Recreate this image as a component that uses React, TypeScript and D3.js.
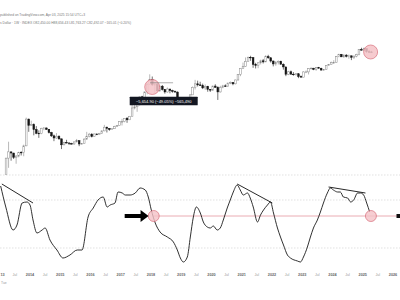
import React from 'react';
import * as d3 from 'd3';

// ---------- data ----------
const firstMonth = { year: 2013, month: 2 }; // March 2013 (0-indexed month)
const firstOpen = 33;

const highs = [
  95, 266, 140, 130, 113, 140, 145, 220, 1240, 1165,
  1020, 860, 720, 550, 650, 680, 660, 600, 500, 420, 460, 400,
  320, 265, 300, 260, 248, 268, 317, 285, 245, 330, 500, 466,
  460, 445, 440, 466, 550, 780, 700, 630, 620, 735, 760, 980,
  1150, 1200, 1290, 1380, 2800, 3000, 2950, 4750, 5000, 6450, 11500, 19800,
  17200, 11800, 11700, 9800, 10000, 7750, 8500, 7750, 7400, 7000, 6600, 4300,
  4100, 4200, 4100, 5600, 9100, 13900, 13200, 12300, 10900, 10400, 9500, 7750,
  9600, 10500, 9200, 9500, 10100, 10400, 11450, 12500, 12100, 14100, 19800, 29300,
  42000, 58300, 61700, 64800, 59500, 41300, 42400, 50500, 52900, 67000, 69000, 59000,
  47900, 45800, 48200, 47400, 40000, 31900, 24700, 25200, 22800, 21100, 21500, 18400,
  23900, 25300, 29200, 31000, 29900, 31400, 31800, 30200, 27500, 35200, 38400, 44700,
  48900, 64000, 73700, 72800, 71900, 71900, 70000, 65600, 66500, 73600, 99600, 108300,
  109600, 102800, 95000, 88600,
];
const lows = [
  33, 50, 79, 88, 65, 98, 110, 105, 200, 500,
  740, 400, 430, 340, 430, 555, 565, 450, 360, 275, 320, 300,
  166, 210, 240, 215, 226, 220, 255, 200, 225, 235, 300, 350,
  350, 365, 404, 412, 435, 520, 480, 535, 590, 602, 680, 740,
  750, 920, 890, 1060, 1350, 2100, 1800, 2670, 2970, 4100, 5500, 10800,
  9400, 6000, 6600, 6450, 7000, 5750, 6100, 5880, 6100, 6200, 3500, 3150,
  3350, 3400, 3700, 4060, 5300, 7500, 9100, 9400, 7700, 7300, 6500, 6400,
  6850, 8500, 3850, 6150, 8100, 8900, 8950, 10550, 9850, 10400, 13200, 17600,
  28800, 32300, 44900, 47000, 30000, 28800, 29300, 37300, 39600, 43300, 53300, 42000,
  32900, 34300, 37200, 37600, 26700, 17600, 18800, 19600, 18100, 18200, 15500, 16300,
  16500, 21400, 19600, 26900, 25800, 24800, 28900, 25200, 24900, 26600, 34100, 37600,
  38500, 41900, 59100, 59600, 56600, 58400, 53500, 49100, 52600, 58900, 66800, 90500,
  89200, 78200, 76600, 81700,
];
const closes = [
  93, 139, 129, 97, 106, 135, 133, 204, 1130, 755,
  800, 580, 457, 448, 628, 640, 586, 478, 387, 338, 378, 320,
  218, 254, 244, 236, 230, 263, 285, 230, 236, 314, 378, 430,
  369, 437, 416, 448, 531, 673, 624, 575, 609, 698, 742, 963,
  965, 1190, 1080, 1350, 2300, 2480, 2870, 4700, 4340, 6450, 10200, 14000,
  10200, 10300, 6900, 9250, 7500, 6400, 7730, 7030, 6630, 6370, 4030, 3740,
  3460, 3850, 4100, 5320, 8570, 10800, 10100, 9600, 8300, 9200, 7560, 7200,
  9350, 8540, 6420, 8630, 9450, 9140, 11350, 11650, 10780, 13800, 19700, 29000,
  33100, 45100, 58800, 57700, 37300, 35000, 41500, 47100, 43800, 61300, 57000, 46300,
  38500, 43200, 45500, 37700, 31800, 19900, 23300, 20000, 19400, 20500, 17200, 16500,
  23100, 23150, 28500, 29300, 27200, 30500, 29200, 26000, 27000, 34500, 37700, 42300,
  42600, 61100, 71300, 60600, 67500, 62700, 64600, 58900, 63300, 70200, 96400, 93400,
  102400, 84400, 82550, 82490,
];

// oscillator (decimal year, value 0..100)
const oscYears = [
  2013.03, 2013.2, 2013.44, 2013.57, 2013.74, 2013.9, 2014.0, 2014.1, 2014.23, 2014.4, 2014.5, 2014.66,
  2014.89, 2015.09, 2015.32, 2015.56, 2015.72, 2015.92, 2016.09, 2016.25, 2016.42, 2016.55, 2016.65,
  2016.81, 2016.91, 2017.05, 2017.15, 2017.31, 2017.48, 2017.64, 2017.81, 2017.91, 2018.01, 2018.14,
  2018.3, 2018.54, 2018.74, 2018.87, 2018.97, 2019.07, 2019.2, 2019.3, 2019.4, 2019.5, 2019.63, 2019.73,
  2019.86, 2019.96, 2020.06, 2020.19, 2020.29, 2020.39, 2020.52, 2020.62, 2020.72, 2020.85, 2020.95,
  2021.05, 2021.19, 2021.28, 2021.38, 2021.52, 2021.62, 2021.72, 2021.85, 2021.95, 2022.05, 2022.18,
  2022.28, 2022.38, 2022.51, 2022.61, 2022.84, 2022.94, 2023.04, 2023.17, 2023.27, 2023.37, 2023.5,
  2023.6, 2023.7, 2023.83, 2023.93, 2024.03, 2024.17, 2024.26, 2024.36, 2024.5, 2024.6, 2024.7, 2024.83,
  2024.93, 2025.03, 2025.13, 2025.23,
];
const oscValues = [
  84, 63, 40, 45, 67, 68, 65, 50, 37, 40, 42, 30,
  20, 12, 15, 20, 20, 53, 62, 70, 73, 63, 65,
  67, 78, 77, 75, 75, 77, 82, 80, 73, 60, 47,
  38, 33, 28, 20, 12, 8, 13, 33, 53, 63, 57, 48,
  43, 42, 44, 40, 42, 50, 62, 70, 78, 85, 80,
  75, 77, 72, 63, 48, 55, 60, 65, 68, 57, 42,
  33, 25, 15, 12, 9, 8, 13, 23, 33, 42, 50,
  58, 67, 77, 82, 80, 78, 78, 73, 72, 68, 70, 77,
  77, 75, 67, 58,
];
const oscLevels = [95, 70, 22];
const signalLevel = 54;

// trend lines on oscillator: [year1, value1, year2, value2]
const oscTrendLines = [
  [2013.07, 86, 2014.1, 67],
  [2020.85, 86, 2022.01, 67],
  [2023.87, 83, 2025.09, 77],
];
const oscMarkers = [2018.09, 2025.27];
const arrowFromTo = [2017.13, 2017.92];

// price annotations
const priceCircles = [
  { year: 2018.04, price: 8800, r: 7.5 },
  { year: 2025.26, price: 82600, r: 7 },
];
const rangeStart = { year: 2017.97, price: 11528.6 };
const rangeEnd = { year: 2018.87, price: 5873.7 };
const rangeLineEndYear = 2018.73;
const rangeLabel = '\u22125,654.90 (\u221249.05%) \u2212565,490';

const yearTicks = [2013, 2014, 2015, 2016, 2017, 2018, 2019, 2020, 2021, 2022, 2023, 2024, 2025, 2026];
const yearTickLabels = ['13', '2014', '2015', '2016', '2017', '2018', '2019', '2020', '2021', '2022', '2023', '2024', '2025', '2026'];
const headerLine1 = 'published on TradingView.com, Apr 03, 2025 15:54 UTC+3';
const headerLine2 = 's Dollar \u00b7 1W \u00b7 INDEX  O82,450.00 H88,656.43 L81,763.27 C82,492.07 \u2212165.01 (\u22120.20%)';
const cornerLabel = 'Tue';

// ---------- component ----------
export default function App() {
  const W = 400, H = 300;
  const x = d3.scaleLinear().domain([2014, 2026]).range([30, 393]);
  const yP = d3.scaleLog().domain([1000, 100000]).range([121, 49]);
  const yO = d3.scaleLinear().domain([0, 100]).range([270, 170]);

  const candles = closes.map((c, i) => {
    const o = i === 0 ? firstOpen : closes[i - 1];
    const t = firstMonth.year + (firstMonth.month + i + 0.5) / 12;
    return { t, o, h: highs[i], l: lows[i], c };
  });
  const bw = (x(2015) - x(2014)) / 12 * 0.68;

  const oscData = oscYears.map((t, i) => [t, oscValues[i]] as [number, number]);
  const oscLine = d3.line<[number, number]>()
    .x(d => x(d[0]))
    .y(d => yO(d[1]))
    .curve(d3.curveMonotoneX);

  const pink = '#f4c2c7';
  const pinkStroke = '#d9707c';
  const font = '"Liberation Sans", Arial, sans-serif';

  const ay = yO(signalLevel);
  const ax0 = x(arrowFromTo[0]);
  const ax1 = x(arrowFromTo[1]);

  const rsx = x(rangeStart.year);
  const rex = x(rangeEnd.year);
  const boxCx = (rsx + rex) / 2;
  const boxTop = yP(rangeEnd.price) + 3.5;

  return (
    <svg width={W} height={H} style={{ position: 'absolute', left: 0, top: 0, background: '#fff' }}>
      <rect x={0} y={0} width={W} height={H} fill="#fff" />
      {/* header */}
      <text x={0} y={15.5} fontSize={3.6} fill="#777" fontFamily={font} textLength={85} lengthAdjust="spacingAndGlyphs">{headerLine1}</text>
      <text x={0} y={24} fontSize={3.6} fill="#777" fontFamily={font} textLength={131} lengthAdjust="spacingAndGlyphs">{headerLine2}</text>

      {/* oscillator levels */}
      {oscLevels.map((v, i) => (
        <line key={i} x1={0} x2={W} y1={yO(v)} y2={yO(v)} stroke="#cfcfcf" strokeWidth={0.6} strokeDasharray="1.5,1.5" />
      ))}

      {/* candles */}
      {candles.map((d, i) => {
        const up = d.c >= d.o;
        const cx = x(d.t);
        const yTop = yP(Math.max(d.o, d.c));
        const yBot = yP(Math.min(d.o, d.c));
        const col = up ? '#8a8a8a' : '#151515';
        return (
          <g key={i}>
            <line x1={cx} x2={cx} y1={yP(d.h)} y2={yP(d.l)} stroke={col} strokeWidth={0.6} />
            <rect x={cx - bw / 2} y={yTop} width={bw} height={Math.max(0.6, yBot - yTop)}
              fill={up ? '#fff' : '#151515'} stroke={col} strokeWidth={0.5} />
          </g>
        );
      })}

      {/* price circles */}
      {priceCircles.map((c, i) => (
        <circle key={i} cx={x(c.year)} cy={yP(c.price)} r={c.r} fill={pink} fillOpacity={0.85} stroke={pinkStroke} strokeWidth={0.7} />
      ))}

      {/* range annotation */}
      <line x1={rsx} x2={x(rangeLineEndYear)} y1={yP(rangeStart.price)} y2={yP(rangeStart.price)} stroke="#777" strokeWidth={0.6} />
      <rect x={boxCx - 34} y={boxTop} width={68} height={8.5} fill="#131722" rx={0.5} />
      <text x={boxCx} y={boxTop + 5.8} fontSize={4} fill="#fff" textAnchor="middle" fontFamily={font}>{rangeLabel}</text>

      {/* signal line */}
      <line x1={x(oscMarkers[0])} x2={W} y1={ay} y2={ay} stroke="#e8a3aa" strokeWidth={0.9} />
      <rect x={W - 3.5} y={ay - 2} width={3.5} height={4} fill="#111" />

      {/* oscillator */}
      <path d={oscLine(oscData) || ''} fill="none" stroke="#1a1a1a" strokeWidth={0.9} />
      {oscTrendLines.map((l, i) => (
        <line key={i} x1={x(l[0])} y1={yO(l[1])} x2={x(l[2])} y2={yO(l[3])} stroke="#111" strokeWidth={0.9} />
      ))}
      {oscMarkers.map((t, i) => (
        <circle key={i} cx={x(t)} cy={ay} r={5.5} fill={pink} fillOpacity={0.8} stroke={pinkStroke} strokeWidth={0.7} />
      ))}

      {/* arrow */}
      <path d={`M${ax0},${ay - 2} L${ax1 - 8},${ay - 2} L${ax1 - 8},${ay - 6} L${ax1},${ay} L${ax1 - 8},${ay + 6} L${ax1 - 8},${ay + 2} L${ax0},${ay + 2} Z`} fill="#000" />

      {/* x axis labels */}
      {yearTicks.map((yr, i) => (
        <g key={yr}>
          <text x={i === 0 ? 0.5 : x(yr)} y={275.5} fontSize={3.8} fill="#666" fontWeight="bold"
            textAnchor={i === 0 ? 'start' : 'middle'} fontFamily={font}>{yearTickLabels[i]}</text>
          {yr < 2026 && (
            <text x={x(yr + 0.5)} y={275.5} fontSize={3.6} fill="#999" textAnchor="middle" fontFamily={font}>Jul</text>
          )}
        </g>
      ))}
      <text x={1} y={284} fontSize={3.4} fill="#999" fontFamily={font}>{cornerLabel}</text>
    </svg>
  );
}
